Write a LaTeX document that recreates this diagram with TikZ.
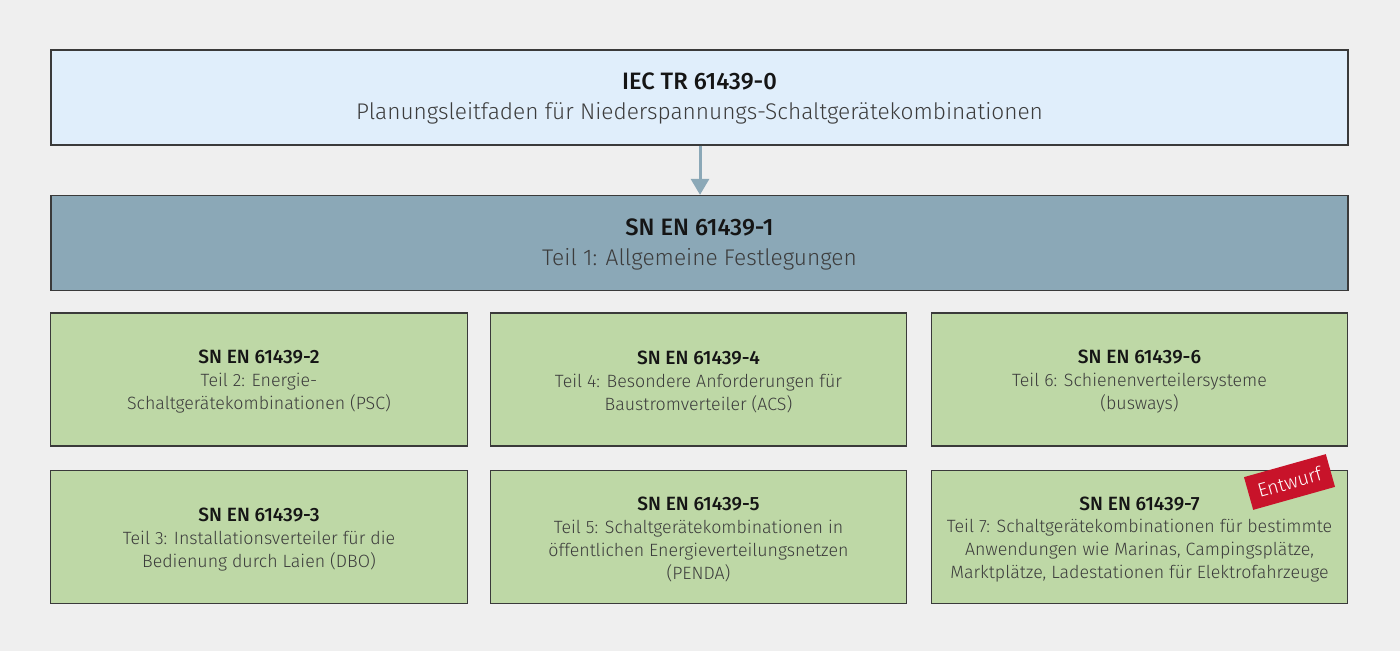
\documentclass[tikz,border=0pt]{standalone}
\usepackage{fontspec}
\setmainfont{Fira Sans}[UprightFont=* Light, BoldFont=* Medium]
\usetikzlibrary{arrows.meta}
\definecolor{bg}{HTML}{EFEFEF}
\definecolor{topfill}{HTML}{E0EEFB}
\definecolor{midfill}{HTML}{8BA8B7}
\definecolor{greenfill}{HTML}{BED8A6}
\definecolor{boxline}{HTML}{3A3A3A}
\definecolor{titletext}{HTML}{151515}
\definecolor{bodytext}{HTML}{3C3C3C}
\definecolor{badgered}{HTML}{C8132A}
\tikzset{
  bigbox/.style={draw=boxline, line width=1.2pt, minimum width=972.75pt, minimum height=71pt, inner sep=0pt},
  greenbox/.style={draw=boxline, line width=0.9pt, fill=greenfill, minimum width=312.5pt, minimum height=99.75pt, inner sep=0pt},
  bigtext/.style={align=center, font=\fontsize{17}{22.5}\selectfont, text=bodytext},
  smalltext/.style={align=center, font=\fontsize{13.35}{17.25}\selectfont, text=bodytext},
  bigtitle/.style={font=\fontsize{17.8}{22.5}\selectfont\bfseries, text=titletext},
  smalltitle/.style={font=\fontsize{14.4}{17.25}\selectfont\bfseries, text=titletext},
  badge/.style={fill=badgered, text=white, minimum width=63.75pt, minimum height=25.5pt, inner sep=0pt, font=\fontsize{14.5}{14.5}\selectfont},
  flowarrow/.style={draw=midfill, line width=2.25pt, -{Triangle[width=13.5pt,length=12pt]}}
}
\newcommand{\bigttl}[1]{{\fontsize{17.8}{22.5}\selectfont\bfseries\textcolor{titletext}{#1}}}
\newcommand{\smallttl}[1]{{\fontsize{14.4}{17.25}\selectfont\bfseries\textcolor{titletext}{#1}}}
\begin{document}
\begin{tikzpicture}[x=0.75pt,y=-0.75pt]
\fill[bg] (0,0) rectangle (1400,651);
\useasboundingbox (0,0) rectangle (1400,651);
\node[bigbox, fill=topfill] (top) at (699.5,97.5) {};
\node[bigtext] (toptext) at (699.5,98) {\bigttl{IEC TR 61439-0}\\Planungsleitfaden für Niederspannungs-Schaltgerätekombinationen};
\node[bigbox, fill=midfill] (mid) at (699.5,243) {};
\node[bigtext] (midtext) at (699.5,244) {\bigttl{SN EN 61439-1}\\Teil 1: Allgemeine Festlegungen};
\draw[flowarrow] (top.south -| 700,0) -- (mid.north -| 700,0);
\node[greenbox] (p2) at (259,379.5) {};
\node[smalltext] (p2t) at (259,382) {\smallttl{SN EN 61439-2}\\Teil 2: Energie-\\Schaltgerätekombinationen (PSC)};
\node[greenbox] (p4) at (698.5,379.5) {};
\node[smalltext] (p4t) at (698.5,382) {\smallttl{SN EN 61439-4}\\Teil 4: Besondere Anforderungen für\\Baustromverteiler (ACS)};
\node[greenbox] (p6) at (1139.5,379.5) {};
\node[smalltext] (p6t) at (1139.5,382) {\smallttl{SN EN 61439-6}\\Teil 6: Schienenverteilersysteme\\(busways)};
\node[greenbox] (p3) at (259,537) {};
\node[smalltext] (p3t) at (259,539.5) {\smallttl{SN EN 61439-3}\\Teil 3: Installationsverteiler für die\\Bedienung durch Laien (DBO)};
\node[greenbox] (p5) at (698.5,537) {};
\node[smalltext] (p5t) at (698.5,539.5) {\smallttl{SN EN 61439-5}\\Teil 5: Schaltgerätekombinationen in\\öffentlichen Energieverteilungsnetzen\\(PENDA)};
\node[greenbox] (p7) at (1139.5,537) {};
\node[smalltitle, inner sep=0pt] (p7title) at (1139.5,503.5) {SN EN 61439-7};
\node[smalltext, inner sep=0pt] (p7t) at (1139.5,550.5) {Teil 7: Schaltgerätekombinationen für bestimmte\\Anwendungen wie Marinas, Campingsplätze,\\Marktplätze, Ladestationen für Elektrofahrzeuge};
\node[badge, rotate=15.7] (entwurf) at (1289.5,482) {Entwurf};
\end{tikzpicture}
\end{document}
